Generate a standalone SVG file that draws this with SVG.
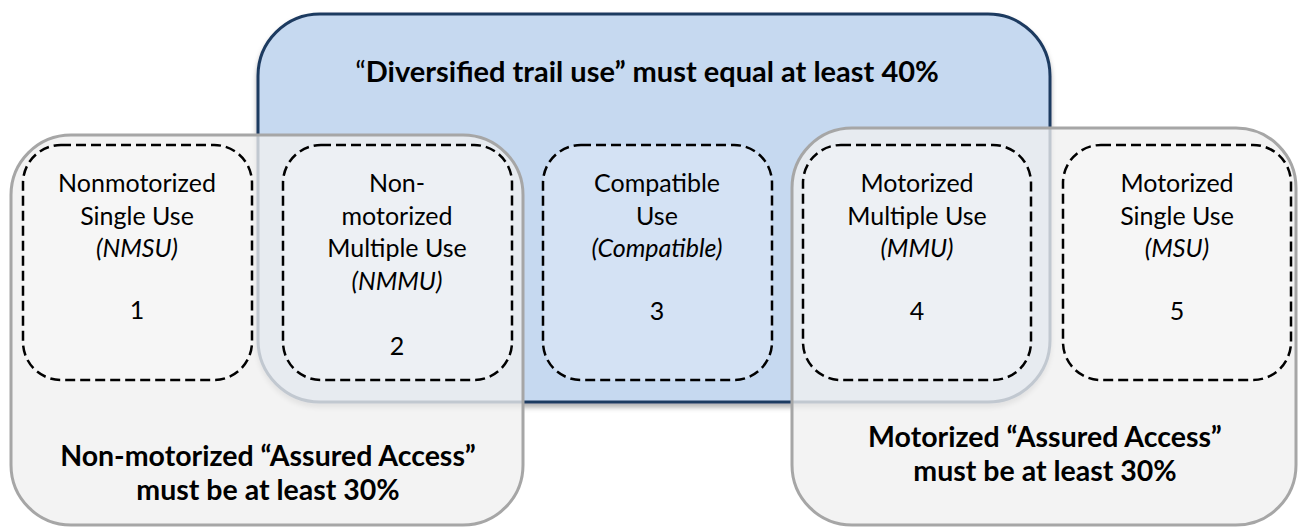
<svg xmlns="http://www.w3.org/2000/svg" width="1301" height="527" viewBox="0 0 1301 527">
  <style>
    .blue { fill: #c6d9f0; stroke: #1f3a60; stroke-width: 3; }
    .gray { fill: #efefef; fill-opacity: 0.78; stroke: #a6a6a6; stroke-width: 3; }
    .dash { fill: #ffffff; fill-opacity: 0.25; stroke: #000000; stroke-width: 2.5; stroke-dasharray: 10 5; }
    text { font-family: Lato, "Liberation Sans", sans-serif; fill: #000000; text-anchor: middle; }
    .lbl { font-size: 25px; }
    .it { font-style: italic; }
    .bold { font-size: 28.5px; font-weight: bold; }
    .title { font-size: 29px; font-weight: bold; }
  </style>
  <defs>
    <filter id="shadow" x="-5%" y="-5%" width="110%" height="115%">
      <feDropShadow dx="0" dy="4" stdDeviation="2.5" flood-color="#000000" flood-opacity="0.3"/>
    </filter>
  </defs>
  <rect width="1301" height="527" fill="#ffffff"/>

  <g id="diversified">
    <rect class="blue" x="258" y="14" width="792" height="388" rx="62" ry="62" filter="url(#shadow)"/>
    <text class="title" x="647" y="82"><tspan font-weight="normal">“</tspan>Diversified trail use” must equal at least 40%</text>
  </g>

  <g id="nonmotorized-assured">
    <rect class="gray" x="11" y="135" width="512" height="390" rx="60" ry="60"/>
    <text class="bold" x="268" y="466">Non-motorized “Assured Access”</text>
    <text class="bold" x="268" y="500">must be at least 30%</text>
  </g>

  <g id="motorized-assured">
    <rect class="gray" x="792" y="128" width="504" height="397" rx="60" ry="60"/>
    <text class="bold" x="1045" y="447">Motorized “Assured Access”</text>
    <text class="bold" x="1045" y="481">must be at least 30%</text>
  </g>

  <g id="nmsu">
    <rect class="dash" x="23" y="145" width="229" height="235" rx="38" ry="38"/>
    <text class="lbl" x="137" y="192">Nonmotorized</text>
    <text class="lbl" x="137" y="225">Single Use</text>
    <text class="lbl it" x="137" y="257">(NMSU)</text>
    <text class="lbl" x="137" y="319">1</text>
  </g>

  <g id="nmmu">
    <rect class="dash" x="283" y="145" width="229" height="235" rx="38" ry="38"/>
    <text class="lbl" x="397" y="192">Non-</text>
    <text class="lbl" x="397" y="225">motorized</text>
    <text class="lbl" x="397" y="257">Multiple Use</text>
    <text class="lbl it" x="397" y="290">(NMMU)</text>
    <text class="lbl" x="397" y="355">2</text>
  </g>

  <g id="compatible">
    <rect class="dash" x="543" y="145" width="229" height="235" rx="38" ry="38"/>
    <text class="lbl" x="657" y="192">Compatible</text>
    <text class="lbl" x="657" y="225">Use</text>
    <text class="lbl it" x="657" y="257">(Compatible)</text>
    <text class="lbl" x="657" y="320">3</text>
  </g>

  <g id="mmu">
    <rect class="dash" x="803" y="145" width="228" height="235" rx="38" ry="38"/>
    <text class="lbl" x="917" y="192">Motorized</text>
    <text class="lbl" x="917" y="225">Multiple Use</text>
    <text class="lbl it" x="917" y="257">(MMU)</text>
    <text class="lbl" x="917" y="320">4</text>
  </g>

  <g id="msu">
    <rect class="dash" x="1063" y="145" width="228" height="235" rx="38" ry="38"/>
    <text class="lbl" x="1177" y="192">Motorized</text>
    <text class="lbl" x="1177" y="225">Single Use</text>
    <text class="lbl it" x="1177" y="257">(MSU)</text>
    <text class="lbl" x="1177" y="320">5</text>
  </g>

  <g id="connectors"/>
</svg>
